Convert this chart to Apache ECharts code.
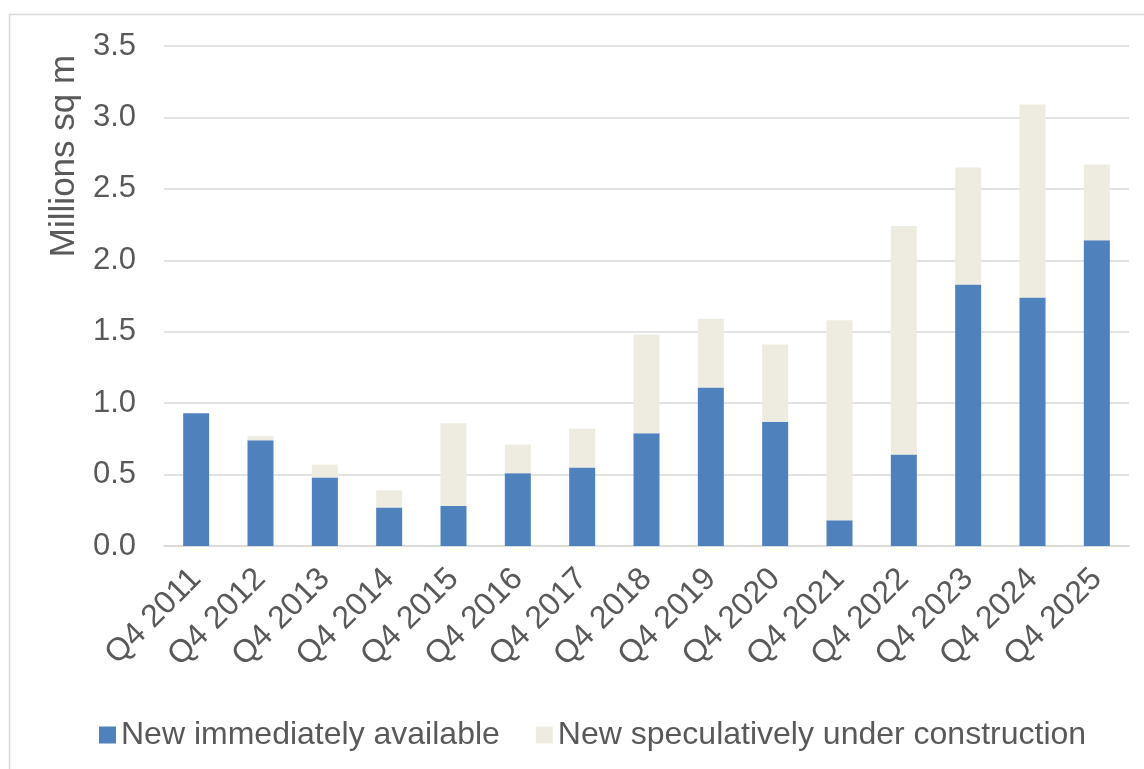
<!DOCTYPE html>
<html>
<head>
<meta charset="utf-8">
<script src="https://cdn.jsdelivr.net/npm/echarts@6/dist/echarts.min.js"></script>
<style>
  html, body { margin: 0; padding: 0; background: #fff; }
  #chart { width: 1144px; height: 769px; }
</style>
</head>
<body>
<div id="chart"></div>
<script>
const categories = ['Q4 2011', 'Q4 2012', 'Q4 2013', 'Q4 2014', 'Q4 2015', 'Q4 2016', 'Q4 2017', 'Q4 2018',
  'Q4 2019', 'Q4 2020', 'Q4 2021', 'Q4 2022', 'Q4 2023', 'Q4 2024', 'Q4 2025']
const immediatelyAvailable = [0.93, 0.74, 0.48, 0.27, 0.28, 0.51, 0.55, 0.79, 1.11, 0.87, 0.18, 0.64, 1.83, 1.74, 2.14]
const speculative = [0, 0.03, 0.09, 0.12, 0.58, 0.20, 0.27, 0.69, 0.48, 0.54, 1.40, 1.60, 0.82, 1.35, 0.53]
const yTicks = { min: 0, max: 3.5, interval: 0.5 }

const textColor = '#595959'
const font = 'Liberation Sans, Arial, sans-serif'

const chart = echarts.init(document.getElementById('chart'))
chart.setOption({
  animation: false,
  textStyle: { fontFamily: font },
  graphic: [
    {
      type: 'rect',
      shape: { x: 9.5, y: 14.5, width: 1200, height: 800 },
      style: { fill: 'none', stroke: '#d9d9d9', lineWidth: 1.5 },
      silent: true
    },
    {
      type: 'text',
      x: 47,
      y: 156,
      rotation: Math.PI / 2,
      style: {
        text: 'Millions sq m',
        font: '35px ' + font,
        fill: textColor,
        align: 'center',
        verticalAlign: 'top'
      }
    }
  ],
  legend: {
    left: 94,
    top: 714,
    itemWidth: 17,
    itemHeight: 17,
    itemGap: 36,
    icon: 'rect',
    textStyle: { color: textColor, fontSize: 32, fontFamily: font },
    data: ['New immediately available', 'New speculatively under construction']
  },
  grid: {
    left: 164,
    right: 15,
    top: 46,
    bottom: 223
  },
  xAxis: {
    type: 'category',
    data: categories,
    axisLine: { lineStyle: { color: '#d9d9d9', width: 1.5 } },
    axisTick: { show: false },
    axisLabel: {
      color: textColor,
      fontSize: 32,
      rotate: 45,
      margin: 28,
      interval: 0
    }
  },
  yAxis: {
    type: 'value',
    min: yTicks.min,
    max: yTicks.max,
    interval: yTicks.interval,
    axisLine: { show: false },
    axisTick: { show: false },
    splitLine: { lineStyle: { color: '#d9d9d9', width: 1.5 } },
    axisLabel: {
      color: textColor,
      fontSize: 31,
      margin: 28,
      formatter: v => v.toFixed(1)
    }
  },
  series: [
    {
      name: 'New immediately available',
      type: 'bar',
      stack: 'total',
      barWidth: 26,
      data: immediatelyAvailable,
      itemStyle: { color: '#4f81bd' }
    },
    {
      name: 'New speculatively under construction',
      type: 'bar',
      stack: 'total',
      barWidth: 26,
      data: speculative,
      itemStyle: { color: '#eeece1' }
    }
  ]
})
</script>
</body>
</html>
